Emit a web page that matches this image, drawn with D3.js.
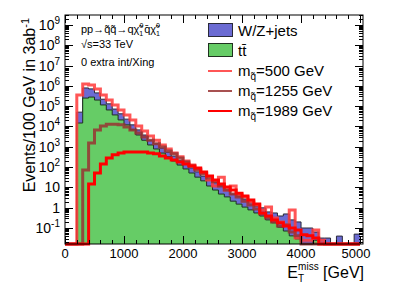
<!DOCTYPE html>
<html>
<head>
<meta charset="utf-8">
<script src="https://cdn.jsdelivr.net/npm/d3@7"></script>
<style>
body { margin: 0; background: #fff; }
svg { display: block; font-family: "Liberation Sans", Arial, Helvetica, sans-serif; }
</style>
</head>
<body>
<div id="chart"></div>
<script>
// histogram data, 100 GeV bins from 0 to 5000 GeV (events / 100 GeV in 3 ab-1)
var binWidth = 100;
var ttbar = [0, 0, 1.48e4, 2.5e5, 2.8e5, 2.0e5, 1.15e5, 6.5e4, 3.7e4, 2.1e4,
    1.2e4, 6800, 3800, 2100, 1230, 780, 490, 320, 200, 126,
    81, 51, 32, 21, 11.7, 7.4, 4.7, 3.4, 2.1, 1.5,
    1.07, 0.78, 0.55, 0.39, 0.25, 0.18, 0.11, 0.071, 0.041, 0.029,
    0, 0, 0.025, 0, 0, 0, 0, 0, 0, 0];
var wzjets = [0, 0, 3.6e4, 5.4e5, 4.3e5, 2.5e5, 1.05e5, 6.5e4, 3.5e4, 2.1e4,
    1.1e4, 5200, 3000, 1700, 870, 620, 380, 230, 150, 94,
    59, 40, 26, 15, 11, 9.6, 7.3, 4.0, 2.6, 2.3,
    1.6, 1.1, 0.65, 0.59, 0.37, 0.37, 0.28, 0.42, 0.21, 0.17,
    0.10, 0.10, 0.038, 0.032, 0.032, 0, 0.04, 0, 0, 0.05];
var sig500 = [0, 0, 3.5e5, 1.23e6, 1.1e6, 7.1e5, 3.5e5, 2.0e5, 1.15e5, 6.5e4,
    3.7e4, 2.1e4, 1.05e4, 6000, 3400, 2100, 1230, 780, 490, 320,
    200, 126, 81, 51, 23, 11.7, 32, 7.4, 11.7, 4.3,
    3.4, 1.9, 1.35, 0.78, 1.07, 0.31, 0.2, 0.14, 0.78, 0.032,
    0.025, 0.025, 0.079, 0.025, 0, 0, 0, 0, 0, 0];
var sig1255 = [0, 0, 0, 72, 1550, 6800, 1.05e4, 1.3e4, 1.3e4, 1.2e4,
    9500, 6800, 4800, 3000, 2100, 1400, 980, 620, 450, 280,
    180, 112, 72, 46, 29, 19, 11.7, 7.4, 4.7, 3.4,
    2.1, 1.35, 0.87, 0.49, 0.31, 0.2, 0.126, 0.14, 0.063, 0.041,
    0, 0, 0, 0, 0, 0, 0, 0, 0, 0];
var sig1989 = [0, 0, 0, 0, 14.8, 51, 141, 280, 400, 490,
    550, 550, 550, 550, 490, 450, 355, 280, 224, 178,
    141, 112, 91, 58, 36, 23, 14.8, 10.5, 7.4, 5.2,
    3.8, 2.4, 1.5, 0.55, 0.39, 0.25, 0.18, 0.126, 0.1, 0.079,
    0.046, 0.041, 0.032, 0, 0, 0, 0, 0, 0, 0];

var xTicks = [0, 1000, 2000, 3000, 4000, 5000];
var yDecades = [-1, 0, 1, 2, 3, 4, 5, 6, 7, 8, 9];
var legendNames = ['W/Z+jets', 'tt\u0304', '500', '1255', '1989'];

var width = 405,
    height = 291,
    frame = { left: 65, right: 363, top: 15, bottom: 244 };

var svg = d3.select('#chart')
    .append('svg')
    .attr('width', width)
    .attr('height', height);

var x = d3.scaleLinear()
    .domain([0, 5050])
    .range([frame.left, frame.right]);

var yMin = Math.pow(10, -1.788);
var y = d3.scaleLog()
    .domain([yMin, Math.pow(10, 9.49)])
    .range([frame.bottom, frame.top]);

// stacked total
var total = ttbar.map(function(d, i) { return d + wzjets[i]; });

function stepPoints(vals) {
    var pts = [];
    vals.forEach(function(v, i) {
        var yy = v > 0 ? y(Math.max(v, yMin)) : frame.bottom;
        pts.push([x(i * binWidth), yy], [x((i + 1) * binWidth), yy]);
    });
    return pts;
}

var line = d3.line();
var area = d3.area()
    .x(function(d) { return d[0]; })
    .y0(frame.bottom)
    .y1(function(d) { return d[1]; });

svg.append('defs').append('clipPath')
    .attr('id', 'clip')
    .append('rect')
    .attr('x', frame.left)
    .attr('y', frame.top)
    .attr('width', frame.right - frame.left)
    .attr('height', frame.bottom - frame.top + 2);

var plot = svg.append('g').attr('clip-path', 'url(#clip)');

// backgrounds
plot.append('path')
    .attr('d', area(stepPoints(total)))
    .attr('fill', '#6b6bd3');
plot.append('path')
    .attr('d', line(stepPoints(total)))
    .attr('fill', 'none')
    .attr('stroke', '#2a2a3a')
    .attr('stroke-width', 1);
plot.append('path')
    .attr('d', area(stepPoints(ttbar)))
    .attr('fill', '#66cc66');
plot.append('path')
    .attr('d', line(stepPoints(ttbar)))
    .attr('fill', 'none')
    .attr('stroke', '#203020')
    .attr('stroke-width', 1);

// signals
var signals = [
    { vals: sig500, color: '#ff3838', op: 0.85 },
    { vals: sig1255, color: '#993333', op: 0.85 },
    { vals: sig1989, color: '#ff0000', op: 1 }
];
signals.forEach(function(s) {
    plot.append('path')
        .attr('d', line(stepPoints(s.vals)))
        .attr('fill', 'none')
        .attr('stroke', s.color)
        .attr('stroke-opacity', s.op)
        .attr('stroke-width', 3)
        .attr('stroke-linejoin', 'miter');
});

// frame
svg.append('rect')
    .attr('x', frame.left)
    .attr('y', frame.top)
    .attr('width', frame.right - frame.left)
    .attr('height', frame.bottom - frame.top)
    .attr('fill', 'none')
    .attr('stroke', '#000')
    .attr('stroke-width', 1);

// x ticks (major every 1000, minor every 200)
var axes = svg.append('g').attr('stroke', '#000').attr('stroke-width', 1);
d3.range(0, 5050, 200).forEach(function(v) {
    var len = v % 1000 === 0 ? 8 : 4;
    var xx = Math.round(x(v)) + 0.5;
    axes.append('line').attr('x1', xx).attr('x2', xx)
        .attr('y1', frame.bottom).attr('y2', frame.bottom - len);
    axes.append('line').attr('x1', xx).attr('x2', xx)
        .attr('y1', frame.top).attr('y2', frame.top + len);
});

// y ticks (log, minor at 2..9)
[-2].concat(yDecades).forEach(function(k) {
    d3.range(1, 10).forEach(function(m) {
        var v = m * Math.pow(10, k);
        if (v < yMin || v > y.domain()[1]) return;
        var len = m === 1 ? 8 : 4;
        var yy = Math.round(y(v)) + 0.5;
        axes.append('line').attr('x1', frame.left).attr('x2', frame.left + len)
            .attr('y1', yy).attr('y2', yy);
        axes.append('line').attr('x1', frame.right).attr('x2', frame.right - len)
            .attr('y1', yy).attr('y2', yy);
    });
});

// x tick labels
xTicks.forEach(function(v) {
    svg.append('text')
        .attr('x', Math.min(x(v), 356))
        .attr('y', 258)
        .attr('text-anchor', 'middle')
        .style('font-size', '13px')
        .text(v);
});

// y tick labels
yDecades.forEach(function(k) {
    var t = svg.append('text')
        .attr('x', 60)
        .attr('y', y(Math.pow(10, k)) + 5)
        .attr('text-anchor', 'end')
        .style('font-size', '14px');
    if (k === 0) {
        t.text('1');
    } else if (k === 1) {
        t.text('10');
    } else {
        t.append('tspan').text('10');
        t.append('tspan').attr('dy', -6).style('font-size', '10px').text(k);
    }
});

// axis titles
var xt = svg.append('text')
    .attr('x', 364)
    .attr('y', 278)
    .attr('text-anchor', 'end')
    .style('font-size', '16px');
xt.append('tspan').text('E');
xt.append('tspan').attr('dy', 4).style('font-size', '10px').text('T');
xt.append('tspan').attr('dx', -6).attr('dy', -12).style('font-size', '10px').text('miss');
xt.append('tspan').attr('dy', 8).text(' [GeV]');

var yt = svg.append('text')
    .attr('transform', 'translate(35,18) rotate(-90)')
    .attr('text-anchor', 'end')
    .style('font-size', '16px');
yt.append('tspan').text('Events/100 GeV in 3ab');
yt.append('tspan').attr('dy', -6).style('font-size', '11px').text('-1');

// process label
var info = svg.append('g').style('font-size', '11px');
var p = info.append('text').attr('x', 81).attr('y', 33);
p.append('tspan').text('pp\u2192q\u0303q\u0303\u2192q\u03c7\u0303');
p.append('tspan').attr('dy', -5).style('font-size', '7px').text('0');
p.append('tspan').attr('dx', -4).attr('dy', 8).style('font-size', '7px').text('1');
p.append('tspan').attr('dx', 1).attr('dy', -3).text('q\u0304\u03c7\u0303');
p.append('tspan').attr('dy', -5).style('font-size', '7px').text('0');
p.append('tspan').attr('dx', -4).attr('dy', 8).style('font-size', '7px').text('1');
info.append('text').attr('x', 81).attr('y', 48).text('\u221as=33 TeV');
info.append('text').attr('x', 81).attr('y', 66).text('0 extra int/Xing');

// legend
var leg = svg.append('g').style('font-size', '15px');
leg.append('rect').attr('x', 208.5).attr('y', 23.5).attr('width', 24).attr('height', 13)
    .attr('fill', '#6b6bd3').attr('stroke', '#2a2a3a');
leg.append('text').attr('x', 238).attr('y', 36).text(legendNames[0]);
leg.append('rect').attr('x', 208.5).attr('y', 43.5).attr('width', 24).attr('height', 13)
    .attr('fill', '#66cc66').attr('stroke', '#203020');
leg.append('text').attr('x', 238).attr('y', 56).text(legendNames[1]);
signals.forEach(function(s, i) {
    var ly = 71 + i * 20;
    leg.append('line').attr('x1', 208).attr('x2', 232).attr('y1', ly).attr('y2', ly)
        .attr('stroke', s.color).attr('stroke-opacity', s.op).attr('stroke-width', 2);
    var t = leg.append('text').attr('x', 238).attr('y', ly + 5);
    t.append('tspan').text('m');
    t.append('tspan').attr('dy', 4).style('font-size', '10px').text('q\u0303');
    t.append('tspan').attr('dy', -4).text('=' + legendNames[i + 2] + ' GeV');
});
</script>
</body>
</html>
